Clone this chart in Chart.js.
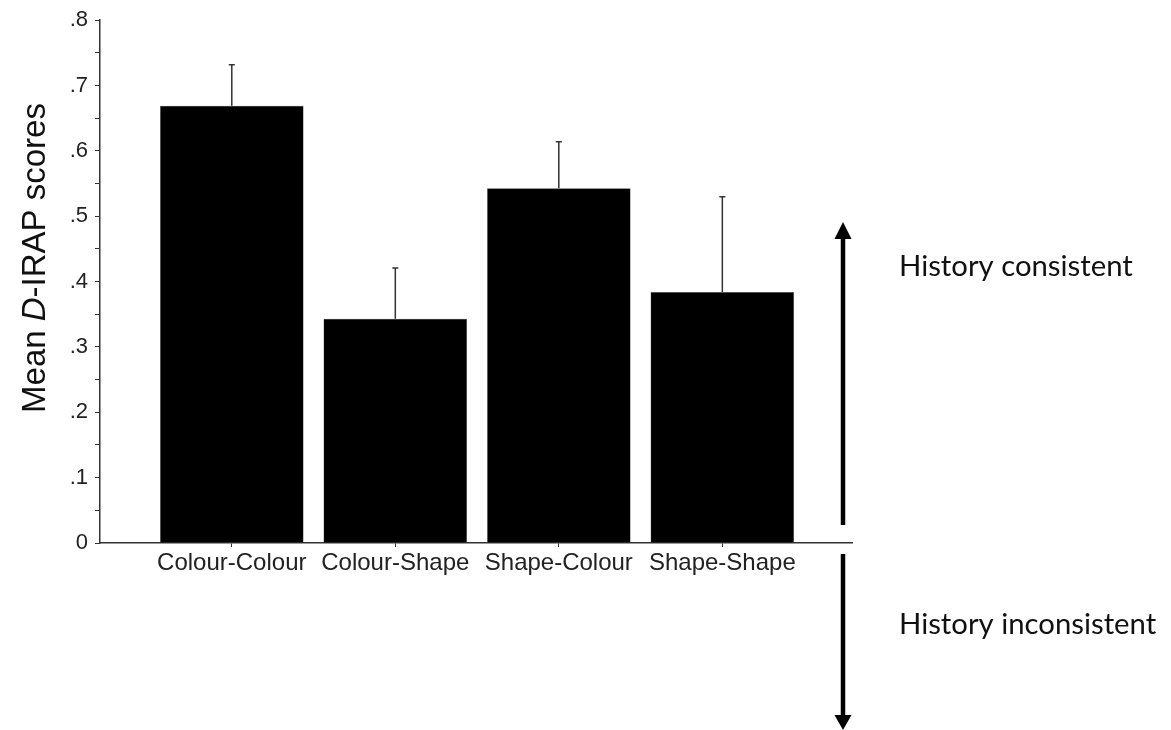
<!DOCTYPE html>
<html lang="en">
<head>
  <meta charset="UTF-8">
  <title>Mean D-IRAP scores</title>
  <script src="https://cdn.jsdelivr.net/npm/chart.js"></script>
  <style>
    body { margin: 0; background: #fff; }
    #wrap { width: 1171px; height: 730px; position: relative; }
  </style>
</head>
<body>
  <div id="wrap"><canvas id="irapChart"></canvas></div>

  <script>
    // data
    const categories = ['Colour-Colour', 'Colour-Shape', 'Shape-Colour', 'Shape-Shape'];
    const means = [0.669, 0.343, 0.543, 0.384];
    const errors = [0.063, 0.078, 0.071, 0.146];
    const yTicks = [0, 0.05, 0.1, 0.15, 0.2, 0.25, 0.3, 0.35, 0.4, 0.45, 0.5, 0.55, 0.6, 0.65, 0.7, 0.75, 0.8];
    const yTickLabels = ['0', '', '.1', '', '.2', '', '.3', '', '.4', '', '.5', '', '.6', '', '.7', '', '.8'];
    const notes = ['History consistent', 'History inconsistent'];

    const AXIS = '#333';
    const positions = categories.map((c, i) => i + 1);

    // error bars, upward only
    const errorBars = {
      id: 'errorBars',
      afterDatasetsDraw(chart) {
        const ctx = chart.ctx;
        const y = chart.scales.y;
        const meta = chart.getDatasetMeta(0);
        ctx.save();
        ctx.strokeStyle = AXIS;
        ctx.lineWidth = 1.5;
        meta.data.forEach((bar, i) => {
          const top = y.getPixelForValue(means[i] + errors[i]);
          ctx.beginPath();
          ctx.moveTo(bar.x, bar.y);
          ctx.lineTo(bar.x, top);
          ctx.moveTo(bar.x - 3, top);
          ctx.lineTo(bar.x + 3, top);
          ctx.stroke();
        });
        ctx.restore();
      }
    };

    // y title with italic D, plus the two arrows and notes on the right
    const extras = {
      id: 'extras',
      afterDraw(chart) {
        const ctx = chart.ctx;
        const area = chart.chartArea;
        ctx.save();

        // y axis title
        const size = 33;
        const parts = [
          ['Mean ', 'normal'],
          ['D', 'italic'],
          ['-IRAP scores', 'normal']
        ];
        let total = 0;
        parts.forEach(p => {
          ctx.font = p[1] + ' ' + size + 'px "Liberation Sans", Arial, sans-serif';
          total += ctx.measureText(p[0]).width;
        });
        ctx.translate(45, 258);
        ctx.rotate(-Math.PI / 2);
        ctx.fillStyle = '#111';
        ctx.textBaseline = 'alphabetic';
        let x = -total / 2;
        parts.forEach(p => {
          ctx.font = p[1] + ' ' + size + 'px "Liberation Sans", Arial, sans-serif';
          ctx.fillText(p[0], x, 0);
          x += ctx.measureText(p[0]).width;
        });
        ctx.setTransform(1, 0, 0, 1, 0, 0);

        // arrows
        const ax = area.right - 9;
        ctx.strokeStyle = '#000';
        ctx.fillStyle = '#000';
        ctx.lineWidth = 4.5;
        ctx.beginPath();
        ctx.moveTo(ax, area.bottom - 18);
        ctx.lineTo(ax, area.bottom - 304);
        ctx.moveTo(ax, area.bottom + 11);
        ctx.lineTo(ax, chart.height - 14);
        ctx.stroke();
        ctx.beginPath();
        ctx.moveTo(ax, area.bottom - 321);
        ctx.lineTo(ax - 8.5, area.bottom - 304);
        ctx.lineTo(ax + 8.5, area.bottom - 304);
        ctx.closePath();
        ctx.fill();
        ctx.beginPath();
        ctx.moveTo(ax, chart.height);
        ctx.lineTo(ax - 8.5, chart.height - 15);
        ctx.lineTo(ax + 8.5, chart.height - 15);
        ctx.closePath();
        ctx.fill();

        // notes
        ctx.font = '29.3px Lato, "Open Sans", sans-serif';
        ctx.fillStyle = '#111';
        ctx.textAlign = 'left';
        ctx.fillText(notes[0], area.right + 47, 276);
        ctx.fillText(notes[1], area.right + 47, 634);
        ctx.restore();
      }
    };

    new Chart(document.getElementById('irapChart'), {
      type: 'bar',
      data: {
        datasets: [{
          data: positions.map((p, i) => ({ x: p, y: means[i] })),
          backgroundColor: '#000',
          borderColor: '#555',
          borderWidth: 0.5,
          categoryPercentage: 1,
          barPercentage: 0.878
        }]
      },
      options: {
        responsive: true,
        maintainAspectRatio: false,
        animation: false,
        layout: { padding: { left: 0, right: 319, top: 15, bottom: 137 } },
        plugins: { legend: { display: false }, tooltip: { enabled: false } },
        scales: {
          x: {
            type: 'linear',
            offset: false,
            min: 0.194,
            max: 4.793,
            afterBuildTicks: scale => { scale.ticks = positions.map(v => ({ value: v })); },
            afterFit: scale => { scale.height = 50; },
            grid: { drawOnChartArea: false, tickLength: 4, color: AXIS, offset: false },
            border: { color: AXIS, width: 1.5 },
            ticks: {
              autoSkip: false,
              maxRotation: 0,
              padding: 2,
              color: '#222',
              font: { family: '"Liberation Sans", Arial, sans-serif', size: 24 },
              callback: v => categories[v - 1]
            }
          },
          y: {
            min: 0,
            max: 0.8,
            afterBuildTicks: scale => { scale.ticks = yTicks.map(v => ({ value: v })); },
            afterFit: scale => { scale.width = 100; },
            grid: {
              drawOnChartArea: false,
              tickLength: 5,
              color: AXIS
            },
            border: { color: AXIS, width: 1.5 },
            ticks: {
              autoSkip: false,
              padding: 7,
              color: '#222',
              font: { family: '"Liberation Sans", Arial, sans-serif', size: 22 },
              callback: (v, i) => yTickLabels[i]
            }
          }
        }
      },
      plugins: [errorBars, extras]
    });
  </script>
</body>
</html>
